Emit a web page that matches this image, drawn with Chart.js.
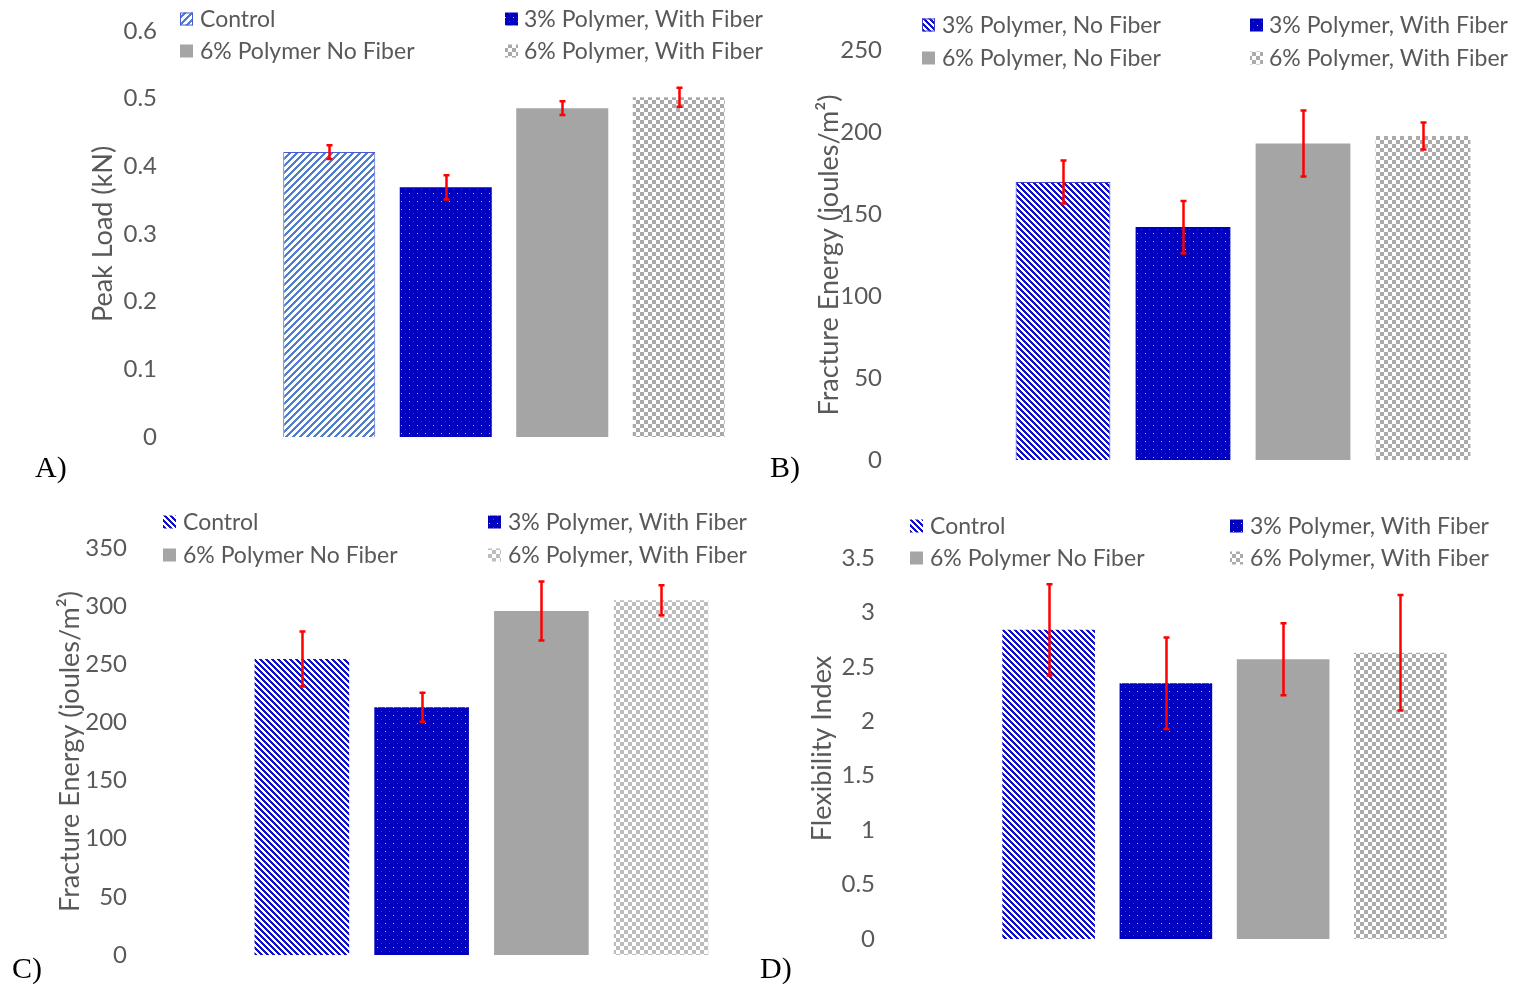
<!DOCTYPE html>
<html><head><meta charset="utf-8">
<script src="https://cdn.jsdelivr.net/npm/chart.js@4.4.1/dist/chart.umd.min.js"></script>
<style>
html,body{margin:0;padding:0;background:#fff;width:1513px;height:985px;overflow:hidden;}
.panel{position:absolute;}
.panel canvas{display:block;}
.lbl{position:absolute;font-family:"Liberation Serif","Times New Roman",serif;font-size:30px;color:#000;line-height:30px;}
</style></head><body>
<div class="panel" style="left:0;top:0"><canvas id="cA" width="775" height="490"></canvas></div>
<div class="panel" style="left:760px;top:0"><canvas id="cB" width="753" height="490"></canvas></div>
<div class="panel" style="left:0;top:490px"><canvas id="cC" width="775" height="495"></canvas></div>
<div class="panel" style="left:760px;top:490px"><canvas id="cD" width="753" height="495"></canvas></div>
<div class="lbl" style="left:35px;top:452px">A)</div>
<div class="lbl" style="left:770px;top:452px">B)</div>
<div class="lbl" style="left:12px;top:953px">C)</div>
<div class="lbl" style="left:760px;top:953px">D)</div>
<script>
// ---------- DATA ----------
const categoriesA = ["Control", "3% Polymer, With Fiber", "6% Polymer No Fiber", "6% Polymer, With Fiber"];
const peakLoad = [0.421, 0.369, 0.486, 0.502];
const peakLoadErr = [0.010, 0.018, 0.010, 0.014];
const ticksA = [0, 0.1, 0.2, 0.3, 0.4, 0.5, 0.6];

const categoriesB = ["3% Polymer, No Fiber", "3% Polymer, With Fiber", "6% Polymer, No Fiber", "6% Polymer, With Fiber"];
const fractureEnergyB = [169.5, 142, 193, 197.6];
const fractureEnergyBErr = [13.1, 15.9, 20.1, 8.2];
const ticksB = [0, 50, 100, 150, 200, 250];

const categoriesC = ["Control", "3% Polymer, With Fiber", "6% Polymer No Fiber", "6% Polymer, With Fiber"];
const fractureEnergyC = [254.5, 213, 295.8, 305];
const fractureEnergyCErr = [23.6, 12.5, 25.4, 12.9];
const ticksC = [0, 50, 100, 150, 200, 250, 300, 350];

const categoriesD = ["Control", "3% Polymer, With Fiber", "6% Polymer No Fiber", "6% Polymer, With Fiber"];
const flexibilityIndex = [2.84, 2.35, 2.57, 2.63];
const flexibilityIndexErr = [0.42, 0.42, 0.33, 0.53];
const ticksD = [0, 0.5, 1, 1.5, 2, 2.5, 3, 3.5];

// ---------- STYLE ----------
const FONT = "Lato, 'Open Sans', sans-serif";
const TXT = '#595959';
const TICK_SIZE = 24, LEGEND_SIZE = 23, TITLE_SIZE = 27;

function rgb(h){h=h.replace('#','');return [parseInt(h.substr(0,2),16),parseInt(h.substr(2,2),16),parseInt(h.substr(4,2),16)];}
function pixTile(w,h,fn){
  const c=document.createElement('canvas');c.width=w;c.height=h;
  const x=c.getContext('2d');const img=x.createImageData(w,h);
  for(let j=0;j<h;j++)for(let i=0;i<w;i++){const col=rgb(fn(i,j));const k=(j*w+i)*4;img.data[k]=col[0];img.data[k+1]=col[1];img.data[k+2]=col[2];img.data[k+3]=255;}
  x.putImageData(img,0,0);
  return x.createPattern(c,'repeat');
}
function stripes(color,period,width,dir){
  return pixTile(period,period,(i,j)=>{const k=dir>0?(i+j)%period:((i-j)%period+period)%period;return k<width?color:'#ffffff';});
}
function dots(base,dot,dot2){
  return pixTile(8,8,(i,j)=>{if(i===1&&j===1)return dot;if(i===5&&j===5)return dot2;return base;});
}
function checker(color,cell){
  return pixTile(cell*2,cell*2,(i,j)=>((Math.floor(i/cell)+Math.floor(j/cell))%2===0)?color:'#ffffff');
}
const GRAY='#A5A5A5';
const BLUE='#0000C0';

// legend drawn in fixed two-column grid (absolute page coords)
const legendPlugin={
  id:'gridLegend',
  afterDraw(chart,args,o){
    const ctx=chart.ctx;
    ctx.save();
    ctx.font=o.fontSize+'px '+FONT;ctx.textBaseline='middle';
    o.labels.forEach((t,i)=>{
      const col=i%2,row=Math.floor(i/2);
      const sx=o.swatchX[col]-o.ox, tx=o.textX[col]-o.ox, y=o.rowY[row]-o.oy;
      const s=o.swatch;
      ctx.fillStyle=o.fills[i];
      ctx.fillRect(sx,y-s/2,s,s);
      if(o.borders[i]){ctx.strokeStyle=o.borders[i];ctx.lineWidth=1;ctx.strokeRect(sx+0.5,y-s/2+0.5,s-1,s-1);}
      ctx.fillStyle=TXT;
      ctx.fillText(t,tx,y+1);
    });
    ctx.restore();
  }
};
const errorBarPlugin={
  id:'errorBars',
  afterDatasetsDraw(chart,args,o){
    const meta=chart.getDatasetMeta(0),ys=chart.scales.y,ctx=chart.ctx,d=chart.data.datasets[0].data;
    ctx.save();ctx.strokeStyle=o.color;ctx.lineWidth=o.width;ctx.lineCap='butt';
    meta.data.forEach((bar,i)=>{
      const x=Math.round(bar.x)+0.5,y1=ys.getPixelForValue(d[i]+o.errors[i]),y2=ys.getPixelForValue(d[i]-o.errors[i]);
      ctx.beginPath();ctx.moveTo(x,y1);ctx.lineTo(x,y2);
      ctx.moveTo(x-o.cap,y1);ctx.lineTo(x+o.cap,y1);ctx.moveTo(x-o.cap,y2);ctx.lineTo(x+o.cap,y2);ctx.stroke();
    });
    ctx.restore();
  }
};

function makeChart(id,cfg){
  const ca=cfg.area; // chart area relative to canvas
  const canvas=document.getElementById(id);
  const W=canvas.width,H=canvas.height;
  return new Chart(canvas,{
    type:'bar',
    data:{labels:cfg.labels,datasets:[{data:cfg.values,backgroundColor:cfg.fills,borderColor:cfg.borders.map(b=>b||'rgba(0,0,0,0)'),borderWidth:cfg.borders.map(b=>b?1:0),barPercentage:0.79,categoryPercentage:1}]},
    plugins:[legendPlugin,errorBarPlugin],
    options:{
      responsive:false,animation:false,devicePixelRatio:1,
      layout:{padding:{left:0,top:ca.top,right:W-ca.right,bottom:H-ca.bottom}},
      plugins:{
        legend:{display:false},tooltip:{enabled:false},
        gridLegend:{labels:cfg.labels,fills:cfg.fills,borders:cfg.borders,ox:cfg.ox,oy:cfg.oy,swatchX:cfg.lg.swatchX,textX:cfg.lg.textX,rowY:cfg.lg.rowY,swatch:13,fontSize:LEGEND_SIZE},
        errorBars:{errors:cfg.errors,color:'#FF0000',width:2.5,cap:3}
      },
      scales:{
        x:{display:false},
        y:{
          min:cfg.ticks[0],max:cfg.ticks[cfg.ticks.length-1],
          afterFit:s=>{s.width=ca.left;s.paddingTop=0;s.paddingBottom=0;},
          afterBuildTicks:s=>{s.ticks=cfg.ticks.map(v=>({value:v}));},
          grid:{display:false,drawTicks:false},border:{display:false},
          ticks:{padding:cfg.tickPad,color:TXT,font:{family:FONT,size:TICK_SIZE},callback:v=>String(Math.round(v*100)/100)},
          title:{display:true,text:cfg.title,color:TXT,font:{family:FONT,size:TITLE_SIZE},padding:{top:cfg.titleX-TITLE_SIZE*0.6,bottom:0}}
        }
      }
    }
  });
}

const ctrlA=stripes('#4F7FCC',7,3,1);
const ctrlB=stripes('#1010C8',6,3,-1);
const ctrlCD=stripes('#1010C8',6,3,-1);
const dotFill=dots(BLUE,'#B0B0FF','#3A3AD8');

makeChart('cA',{ox:0,oy:0,labels:categoriesA,values:peakLoad,errors:peakLoadErr,ticks:ticksA,
  fills:[ctrlA,dotFill,GRAY,checker('#A9A9A9',4)],borders:['#4B5BD6',null,null,null],
  area:{left:271,right:737,top:31,bottom:437},tickPad:114,titleX:103,title:'Peak Load (kN)',
  lg:{swatchX:[180,505],textX:[200,524],rowY:[19,51]}});
makeChart('cB',{ox:760,oy:0,labels:categoriesB,values:fractureEnergyB,errors:fractureEnergyBErr,ticks:ticksB,
  fills:[ctrlB,dotFill,GRAY,checker('#ABABAB',4)],borders:['#3F3FD0',null,null,null],
  area:{left:243,right:723,top:50,bottom:460},tickPad:121,titleX:69,title:'Fracture Energy (joules/m²)',
  lg:{swatchX:[922,1250],textX:[942,1269],rowY:[25,58]}});
makeChart('cC',{ox:0,oy:490,labels:categoriesC,values:fractureEnergyC,errors:fractureEnergyCErr,ticks:ticksC,
  fills:[ctrlCD,dotFill,GRAY,checker('#BDBDBD',4)],borders:[null,null,null,null],
  area:{left:242,right:721,top:58,bottom:465},tickPad:115,titleX:70,title:'Fracture Energy (joules/m²)',
  lg:{swatchX:[163,488],textX:[183,508],rowY:[522,555]}});
makeChart('cD',{ox:760,oy:490,labels:categoriesD,values:flexibilityIndex,errors:flexibilityIndexErr,ticks:ticksD,
  fills:[ctrlCD,dotFill,GRAY,checker('#ABABAB',4)],borders:[null,null,null,null],
  area:{left:230,right:699,top:68,bottom:449},tickPad:115,titleX:62,title:'Flexibility Index',
  lg:{swatchX:[910,1230],textX:[930,1250],rowY:[526,558]}});
</script>
</body></html>
